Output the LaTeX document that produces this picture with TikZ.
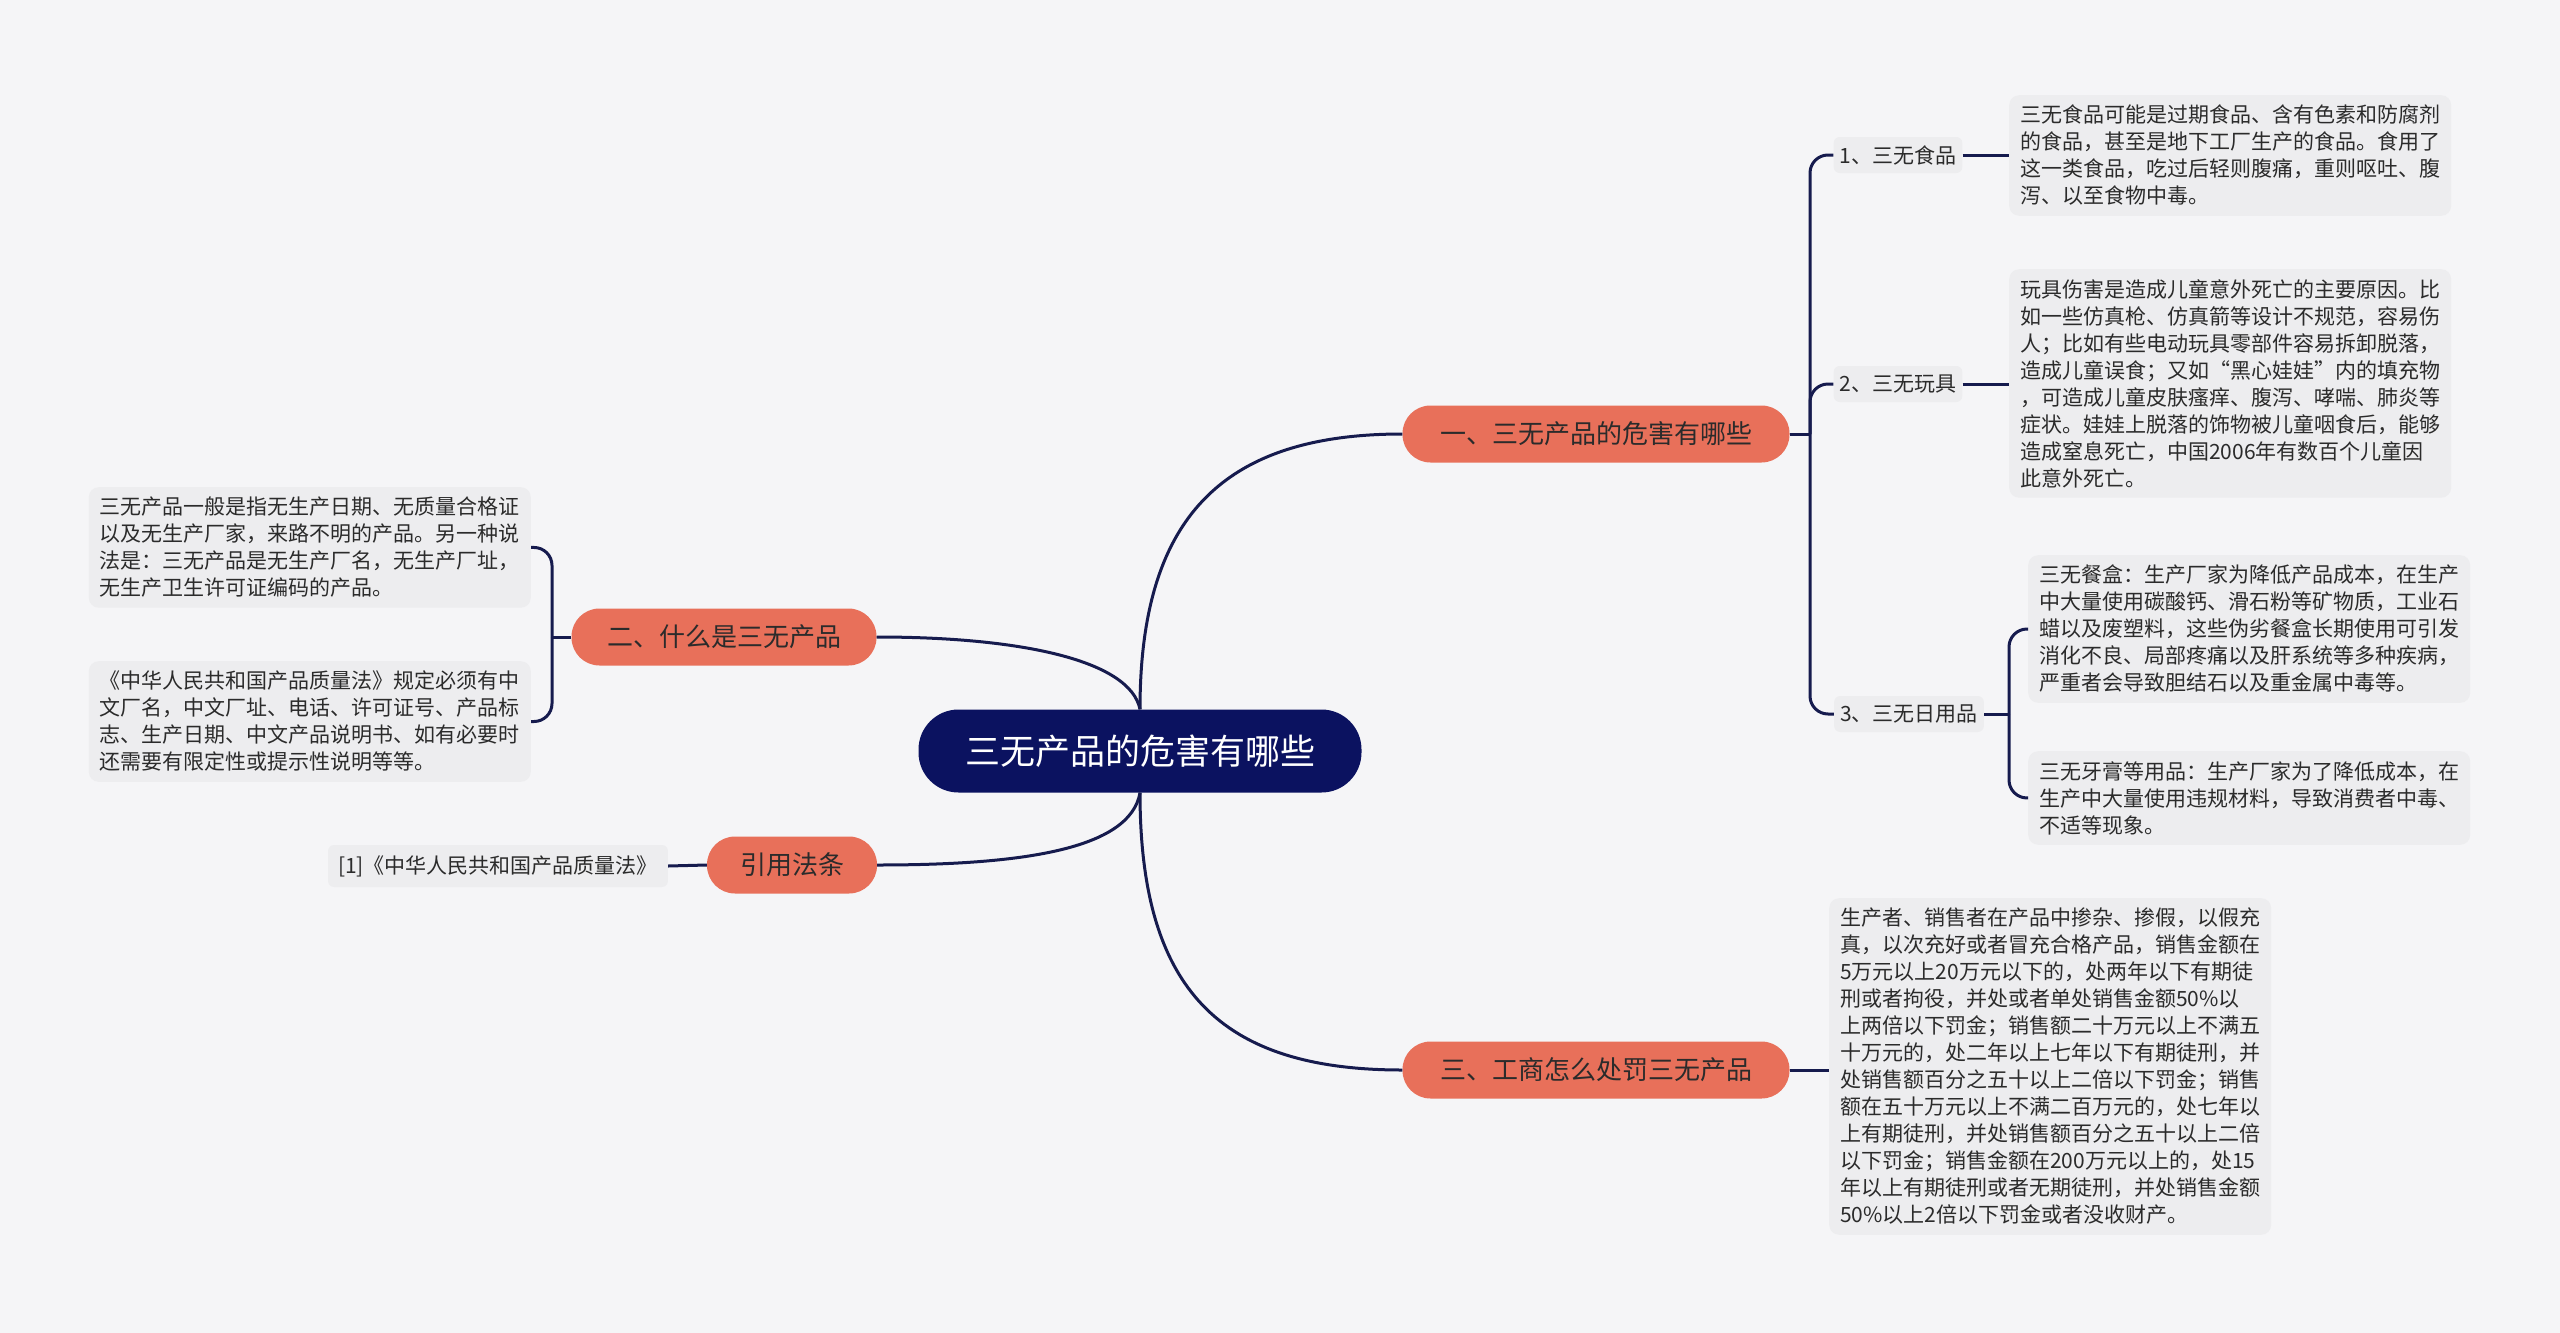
\documentclass[tikz,border=0pt]{standalone}
\usepackage{fontspec}
\setmainfont{Noto Sans CJK SC}
\begin{document}
\begin{tikzpicture}[x=1pt,y=-1pt,
  every node/.style={inner sep=0pt},
  conn/.style={draw=lineC,line width=3pt},
  mainbox/.style={fill=mainC,rounded corners=28pt,minimum height=57pt,font=\fontsize{26}{30}\selectfont,text=txtC},
  labelbox/.style={fill=boxC,rounded corners=6pt,minimum height=36pt,inner xsep=6pt,font=\fontsize{21}{27}\selectfont,text=txtC},
  detail/.style={fill=boxC,rounded corners=10pt,align=left,inner xsep=11pt,inner ysep=10pt,font=\fontsize{21}{27}\selectfont,text=txtC,anchor=north west}]
\definecolor{bgC}{HTML}{F5F5F7}
\definecolor{boxC}{HTML}{EDEDEF}
\definecolor{lineC}{HTML}{161B4E}
\definecolor{mainC}{HTML}{E8705A}
\definecolor{rootC}{HTML}{0B1260}
\definecolor{txtC}{HTML}{2B2B2B}
\fill[bgC] (0,0) rectangle (2560,1333);
\useasboundingbox (0,0) rectangle (2560,1333);

\node[fill=rootC,rounded corners=40pt,minimum width=443pt,minimum height=83pt,text=white,font=\fontsize{35}{40}\selectfont] (root) at (1140,751) {三无产品的危害有哪些};

\node[mainbox,minimum width=387pt] (m1) at (1596,434) {一、三无产品的危害有哪些};
\node[mainbox,minimum width=305pt] (m2) at (724,637) {二、什么是三无产品};
\node[mainbox,minimum width=170pt] (m3) at (792,865) {引用法条};
\node[mainbox,minimum width=387pt] (m4) at (1596,1070) {三、工商怎么处罚三无产品};

\draw[conn] (root.north) .. controls (1140,520) and (1220,434) .. (m1.west);
\draw[conn] (root.south) .. controls (1140,990) and (1220,1070) .. (m4.west);
\draw[conn] (root.north) .. controls (1130,660) and (1020,637) .. (m2.east);
\draw[conn] (root.south) .. controls (1130,850) and (1020,865) .. (m3.east);

\node[labelbox] (c1) at (1898,155) {1、三无食品};
\node[labelbox] (c2) at (1898,384) {2、三无玩具};
\node[labelbox] (c3) at (1909,714) {3、三无日用品};
\coordinate (j1) at (1810,434);
\draw[conn] (m1.east) -- (j1);
\foreach \c in {c1,c2,c3} \draw[conn,rounded corners=18pt] (j1) |- (\c.west);

\node[detail] (d1) at (2009,95) {三无食品可能是过期食品、含有色素和防腐剂\\的食品，甚至是地下工厂生产的食品。食用了\\这一类食品，吃过后轻则腹痛，重则呕吐、腹\\泻、以至食物中毒。};
\node[detail] (d2) at (2009,269) {玩具伤害是造成儿童意外死亡的主要原因。比\\如一些仿真枪、仿真箭等设计不规范，容易伤\\人；比如有些电动玩具零部件容易拆卸脱落，\\造成儿童误食；又如“黑心娃娃”内的填充物\\，可造成儿童皮肤瘙痒、腹泻、哮喘、肺炎等\\症状。娃娃上脱落的饰物被儿童咽食后，能够\\造成窒息死亡，中国2006年有数百个儿童因\\此意外死亡。};
\node[detail] (d3) at (2028,555) {三无餐盒：生产厂家为降低产品成本，在生产\\中大量使用碳酸钙、滑石粉等矿物质，工业石\\蜡以及废塑料，这些伪劣餐盒长期使用可引发\\消化不良、局部疼痛以及肝系统等多种疾病，\\严重者会导致胆结石以及重金属中毒等。};
\node[detail] (d4) at (2028,751) {三无牙膏等用品：生产厂家为了降低成本，在\\生产中大量使用违规材料，导致消费者中毒、\\不适等现象。};
\draw[conn] (c1.east) -- (d1.west |- c1.east);
\draw[conn] (c2.east) -- (d2.west |- c2.east);
\coordinate (j3) at (2009,714);
\draw[conn] (c3.east) -- (j3);
\draw[conn,rounded corners=18pt] (j3) |- (d3.west);
\draw[conn,rounded corners=18pt] (j3) |- (d4.west);

\node[detail] (d5) at (1829,898) {生产者、销售者在产品中掺杂、掺假，以假充\\真，以次充好或者冒充合格产品，销售金额在\\5万元以上20万元以下的，处两年以下有期徒\\刑或者拘役，并处或者单处销售金额50\%以\\上两倍以下罚金；销售额二十万元以上不满五\\十万元的，处二年以上七年以下有期徒刑，并\\处销售额百分之五十以上二倍以下罚金；销售\\额在五十万元以上不满二百万元的，处七年以\\上有期徒刑，并处销售额百分之五十以上二倍\\以下罚金；销售金额在200万元以上的，处15\\年以上有期徒刑或者无期徒刑，并处销售金额\\50\%以上2倍以下罚金或者没收财产。};
\draw[conn] (m4.east) -- (d5.west |- m4.east);

\node[detail,anchor=north east] (l1) at (531,487) {三无产品一般是指无生产日期、无质量合格证\\以及无生产厂家，来路不明的产品。另一种说\\法是：三无产品是无生产厂名，无生产厂址，\\无生产卫生许可证编码的产品。};
\node[detail,anchor=north east] (l2) at (531,661) {《中华人民共和国产品质量法》规定必须有中\\文厂名，中文厂址、电话、许可证号、产品标\\志、生产日期、中文产品说明书、如有必要时\\还需要有限定性或提示性说明等等。};
\coordinate (j2) at (552,637);
\draw[conn] (m2.west) -- (j2);
\draw[conn,rounded corners=18pt] (j2) |- (l1.east);
\draw[conn,rounded corners=18pt] (j2) |- (l2.east);

\node[labelbox,inner xsep=10pt,minimum height=42pt] (r1) at (498,866) {[1]《中华人民共和国产品质量法》};
\draw[conn] (m3.west) -- (r1.east);
\end{tikzpicture}
\end{document}
